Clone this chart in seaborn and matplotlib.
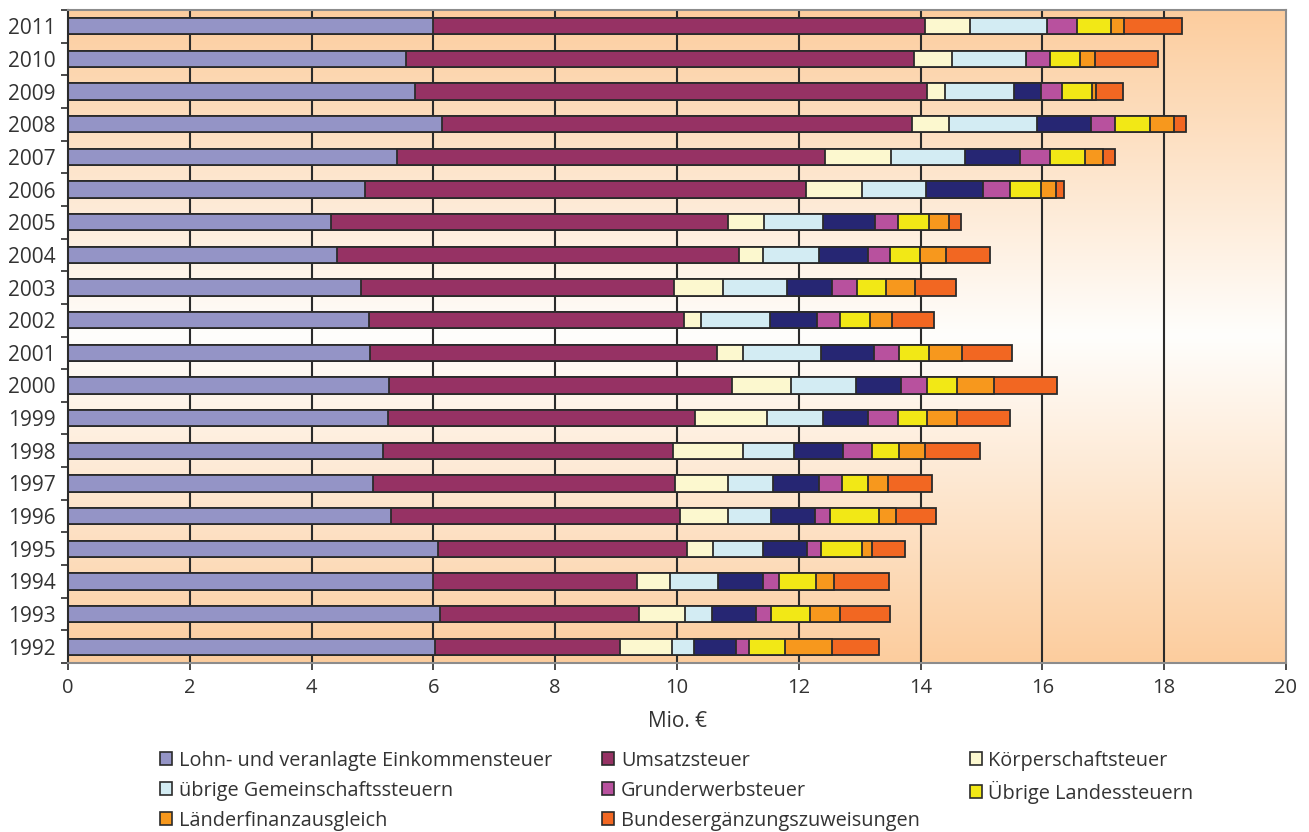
import numpy as np
import pandas as pd
import seaborn as sns
import matplotlib.pyplot as plt
from matplotlib.patches import Patch
from matplotlib.colors import LinearSegmentedColormap

# Jahre von oben (2011) nach unten (1992)
jahre = ['2011', '2010', '2009', '2008', '2007', '2006', '2005', '2004', '2003', '2002',
         '2001', '2000', '1999', '1998', '1997', '1996', '1995', '1994', '1993', '1992']

# Werte in Mio. €
lohn_einkommen = [6.00, 5.55, 5.70, 6.14, 5.40, 4.87, 4.32, 4.42, 4.81, 4.95,
                  4.96, 5.27, 5.26, 5.17, 5.01, 5.31, 6.07, 6.00, 6.10, 6.03]
umsatz = [8.07, 8.34, 8.41, 7.72, 7.03, 7.25, 6.52, 6.59, 5.14, 5.17,
          5.70, 5.64, 5.04, 4.76, 4.96, 4.74, 4.10, 3.35, 3.27, 3.03]
koerperschaft = [0.74, 0.62, 0.29, 0.61, 1.09, 0.92, 0.59, 0.41, 0.81, 0.27,
                 0.43, 0.96, 1.17, 1.16, 0.86, 0.78, 0.42, 0.53, 0.76, 0.86]
gemeinschaft = [1.27, 1.22, 1.14, 1.44, 1.21, 1.05, 0.96, 0.91, 1.04, 1.14,
                1.27, 1.07, 0.93, 0.83, 0.75, 0.71, 0.83, 0.79, 0.44, 0.36]
ohne_legende = [0.00, 0.00, 0.44, 0.89, 0.90, 0.93, 0.86, 0.80, 0.75, 0.77,
                0.87, 0.74, 0.73, 0.81, 0.75, 0.73, 0.71, 0.74, 0.72, 0.69]
grunderwerb = [0.49, 0.39, 0.34, 0.40, 0.50, 0.45, 0.38, 0.36, 0.41, 0.38,
               0.41, 0.42, 0.50, 0.47, 0.38, 0.24, 0.24, 0.26, 0.25, 0.22]
landessteuern = [0.56, 0.50, 0.49, 0.57, 0.57, 0.51, 0.50, 0.50, 0.47, 0.49,
                 0.49, 0.50, 0.47, 0.44, 0.43, 0.80, 0.67, 0.61, 0.64, 0.59]
finanzausgleich = [0.21, 0.24, 0.07, 0.39, 0.30, 0.25, 0.34, 0.42, 0.48, 0.36,
                   0.55, 0.61, 0.50, 0.44, 0.33, 0.29, 0.17, 0.29, 0.50, 0.77]
bundeserg = [0.95, 1.04, 0.45, 0.20, 0.20, 0.12, 0.19, 0.73, 0.67, 0.69,
             0.82, 1.03, 0.87, 0.90, 0.71, 0.66, 0.54, 0.91, 0.82, 0.76]

namen = ['Lohn- und veranlagte Einkommensteuer', 'Umsatzsteuer', 'Körperschaftsteuer',
         'übrige Gemeinschaftssteuern', None, 'Grunderwerbsteuer',
         'Übrige Landessteuern', 'Länderfinanzausgleich', 'Bundesergänzungszuweisungen']
werte = [lohn_einkommen, umsatz, koerperschaft, gemeinschaft, ohne_legende,
         grunderwerb, landessteuern, finanzausgleich, bundeserg]
farben = ['#9494c6', '#963264', '#fcf8cf', '#d3ecf3', '#262673',
          '#b8519e', '#f2e816', '#f7981d', '#f26722']

# kumulierte Summen fuer die gestapelten Balken
df = pd.DataFrame({'Jahr': jahre})
summe = np.zeros(len(jahre))
for i, w in enumerate(werte):
    summe = summe + np.array(w)
    df[f's{i}'] = summe

sns.set_theme(style='ticks')
plt.rcParams['font.family'] = ['Open Sans', 'DejaVu Sans']
textfarbe = '#333333'

fig, ax = plt.subplots(figsize=(13.09, 8.32), dpi=100)
fig.subplots_adjust(left=0.052, right=0.9824, top=0.988, bottom=0.2031)

# Hintergrund: vertikaler Verlauf orange - weiss - orange
cmap = LinearSegmentedColormap.from_list(
    'bg', [(0.0, '#fccd9e'), (0.5, '#fffefc'), (1.0, '#fccd9e')])
grad = np.linspace(0, 1, 256).reshape(-1, 1)
ax.imshow(grad, cmap=cmap, extent=(0, 20, 19.5, -0.5), aspect='auto',
          zorder=0, interpolation='bicubic')

for x in range(2, 20, 2):
    ax.axvline(x, color='#2b2b2b', lw=1.5, zorder=1)

# von der Gesamtsumme rueckwaerts zeichnen, damit jede Schicht sichtbar bleibt
for i in reversed(range(len(werte))):
    sns.barplot(data=df, x=f's{i}', y='Jahr', order=jahre, orient='h',
                color=farben[i], saturation=1, width=0.5, errorbar=None,
                edgecolor='#2b2b2b', linewidth=1.3, ax=ax, zorder=2)

ax.set_xlim(0, 20)
ax.set_ylim(19.5, -0.5)
ax.set_xticks(range(0, 21, 2))
ax.set_yticks(np.arange(-0.5, 20, 1), minor=True)
ax.tick_params(axis='y', which='major', length=0, pad=9, labelsize=15, labelcolor=textfarbe)
ax.tick_params(axis='y', which='minor', length=5, width=1.2, color='#2b2b2b', direction='out')
ax.tick_params(axis='x', length=5, width=1.2, color='#2b2b2b', labelsize=14.5,
               labelcolor=textfarbe, pad=6)
ax.set_ylabel('')
ax.set_xlabel('Mio. €', fontsize=15, color=textfarbe, labelpad=9)

for s in ['top', 'right', 'bottom']:
    ax.spines[s].set_color('#8c8c8c')
    ax.spines[s].set_linewidth(1.5)
ax.spines['left'].set_color('#2b2b2b')
ax.spines['left'].set_linewidth(1.5)

# Legende zeilenweise wie im Original (matplotlib fuellt spaltenweise)
reihenfolge = [0, 3, 7, 1, 5, 8, 2, 6]
handles = [Patch(facecolor=farben[i], edgecolor='#2b2b2b', linewidth=1.2, label=namen[i])
           for i in reihenfolge]
ax.legend(handles=handles, loc='upper center', bbox_to_anchor=(0.5, -0.107), ncol=3,
          frameon=False, fontsize=14.3, handlelength=0.6, handleheight=0.6,
          handletextpad=0.35, columnspacing=2.5, labelspacing=0.5, labelcolor=textfarbe)

fig.savefig('out.png', dpi=100)
